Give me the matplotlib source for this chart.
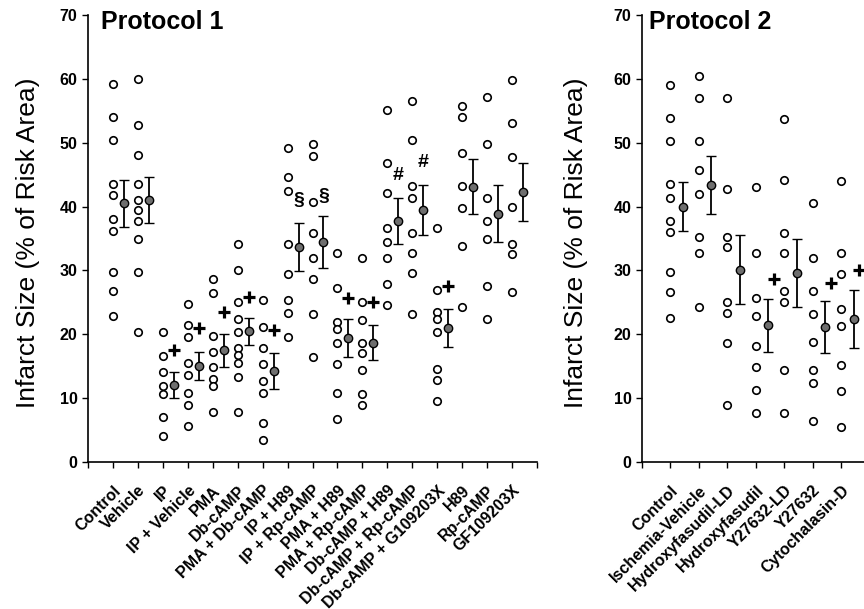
import numpy as np
import matplotlib
matplotlib.use("Agg")
import matplotlib.pyplot as plt

plt.rcParams['font.family'] = ['Liberation Sans', 'DejaVu Sans']

# ---- Protocol 1 ----
labels1 = ['Control', 'Vehicle', 'IP', 'IP + Vehicle', 'PMA', 'Db-cAMP',
           'PMA + Db-cAMP', 'IP + H89', 'IP + Rp-cAMP', 'PMA + H89',
           'PMA + Rp-cAMP', 'Db-cAMP + H89', 'Db-cAMP + Rp-cAMP',
           'Db-cAMP + G109203X', 'H89', 'Rp-cAMP', 'GF109203X']
points1 = [
    [59.2, 54.0, 50.4, 43.6, 41.8, 38.0, 36.1, 29.8, 26.8, 22.9],
    [60.0, 52.7, 48.0, 43.6, 41.0, 39.4, 37.8, 35.0, 29.7, 20.3],
    [20.3, 16.6, 14.1, 11.9, 10.7, 7.1, 4.1],
    [24.8, 21.4, 19.5, 15.5, 13.7, 10.8, 9.0, 5.7],
    [28.7, 26.4, 19.8, 17.3, 14.9, 13.0, 11.9, 7.9],
    [34.2, 30.0, 25.0, 22.4, 20.3, 17.9, 16.8, 15.5, 13.3, 7.9],
    [25.4, 21.2, 17.9, 15.4, 12.7, 10.8, 6.1, 3.5],
    [49.1, 44.6, 42.4, 34.2, 29.4, 25.4, 23.4, 19.6],
    [49.8, 47.9, 40.7, 35.9, 32.0, 28.7, 23.2, 16.5],
    [32.7, 27.3, 22.0, 20.9, 18.7, 15.4, 10.8, 6.8],
    [31.9, 25.0, 22.3, 18.7, 17.1, 14.4, 10.7, 8.9],
    [55.1, 46.8, 42.2, 36.7, 34.5, 31.9, 27.9, 24.6],
    [56.5, 50.5, 43.2, 41.4, 35.8, 32.7, 29.6, 23.2],
    [36.7, 27.0, 23.5, 22.4, 20.4, 14.6, 12.9, 9.6],
    [55.7, 54.0, 48.4, 43.2, 39.7, 33.8, 24.3],
    [57.1, 49.8, 41.3, 37.7, 34.9, 27.5, 22.4],
    [59.8, 53.1, 47.7, 40.0, 34.2, 32.5, 26.7],
]
means1 = [40.5, 41.1, 12.1, 15.1, 17.5, 20.5, 14.2, 33.7, 34.5, 19.4,
          18.7, 37.8, 39.5, 21.0, 43.1, 38.9, 42.3]
sems1 = [3.7, 3.6, 2.0, 2.2, 2.6, 2.1, 2.8, 3.8, 4.1, 3.0,
         2.7, 3.6, 3.9, 3.0, 4.3, 4.5, 4.5]
plus1 = [None, None, 17.6, 21.0, 23.5, 25.9, 20.6, None, None, 25.7,
         25.0, None, None, 27.5, None, None, None]
symbols1 = {7: ('§', 41.0), 8: ('§', 41.6), 11: ('#', 44.9), 12: ('#', 46.9)}

# ---- Protocol 2 ----
labels2 = ['Control', 'Ischemia-Vehicle', 'Hydroxyfasudil-LD', 'Hydroxyfasudil',
           'Y27632-LD', 'Y27632', 'Cytochalasin-D']
points2 = [
    [59.0, 53.8, 50.2, 43.6, 41.4, 37.8, 36.0, 29.8, 26.7, 22.6],
    [60.4, 57.0, 50.2, 45.7, 41.9, 35.2, 32.8, 24.2],
    [57.0, 42.7, 35.2, 33.6, 25.1, 23.4, 18.7, 8.9],
    [43.0, 32.8, 25.7, 22.8, 18.1, 14.8, 11.3, 7.7],
    [53.7, 44.2, 35.8, 32.8, 26.8, 25.1, 14.4, 7.7],
    [40.5, 31.9, 26.8, 23.2, 18.8, 14.4, 12.4, 6.4],
    [44.0, 32.8, 29.5, 23.9, 21.3, 15.2, 11.1, 5.5],
]
means2 = [40.0, 43.4, 30.1, 21.4, 29.6, 21.1, 22.4]
sems2 = [3.9, 4.5, 5.4, 4.2, 5.4, 4.1, 4.6]
plus2 = [None, None, None, 28.7, None, 28.1, 30.0]

fig = plt.figure(figsize=(8.64, 6.09), dpi=100)
ax1 = fig.add_axes([88/864, 147/609, 449/864, 447/609])
ax2 = fig.add_axes([642/864, 147/609, 8*28.43/864, 447/609])

off = 0.44


def panel(ax, labels, points, means, sems, plus, pdx, title):
    n = len(labels)
    for i, vals in enumerate(points):
        x = i + 1
        ax.plot([x]*len(vals), vals, 'o', ms=5.4, mfc='white', mec='black',
                mew=1.2, clip_on=False)
        ax.errorbar(x + off, means[i], yerr=sems[i], fmt='o', ms=6,
                    mfc='#6e6e6e', mec='black', mew=1.0, ecolor='black',
                    elinewidth=1.3, capsize=3.5, capthick=1.3)
        if plus[i] is not None:
            ax.plot(x + off + pdx, plus[i], '+', ms=9, mew=2.3, color='black')
    ax.set_xlim(0, n + 1)
    ax.set_ylim(0, 70)
    ax.set_yticks(np.arange(0, 71, 10))
    ax.set_xticks(np.arange(0, n + 2))
    ax.set_xticklabels([''] + labels + [''], rotation=45, ha='right',
                       rotation_mode='anchor', fontsize=11.5, fontweight='bold')
    for t in ax.get_yticklabels():
        t.set_fontweight('bold')
        t.set_fontsize(11.5)
    ax.tick_params(axis='both', direction='out', length=4, width=1)
    ax.tick_params(axis='x', pad=11)
    ax.spines['top'].set_visible(False)
    ax.spines['right'].set_visible(False)
    ax.spines['left'].set_linewidth(1.2)
    ax.spines['bottom'].set_linewidth(1.2)
    ax.set_ylabel('Infarct Size (% of Risk Area)', fontsize=19)
    ax.text(0.03, 0.985, title, transform=ax.transAxes, fontsize=18,
            fontweight='bold', ha='left', va='center')


panel(ax1, labels1, points1, means1, sems1, plus1, 0.0, 'Protocol 1')
panel(ax2, labels2, points2, means2, sems2, plus2, 0.2, 'Protocol 2')

for i, (s, yv) in symbols1.items():
    ax1.text(i + 1 + off, yv, s, fontsize=14, fontweight='bold',
             ha='center', va='center')

ax1.yaxis.set_label_coords(-0.107, 0.49)
ax2.yaxis.set_label_coords(-0.237, 0.49)

fig.savefig('out.png', dpi=100)
